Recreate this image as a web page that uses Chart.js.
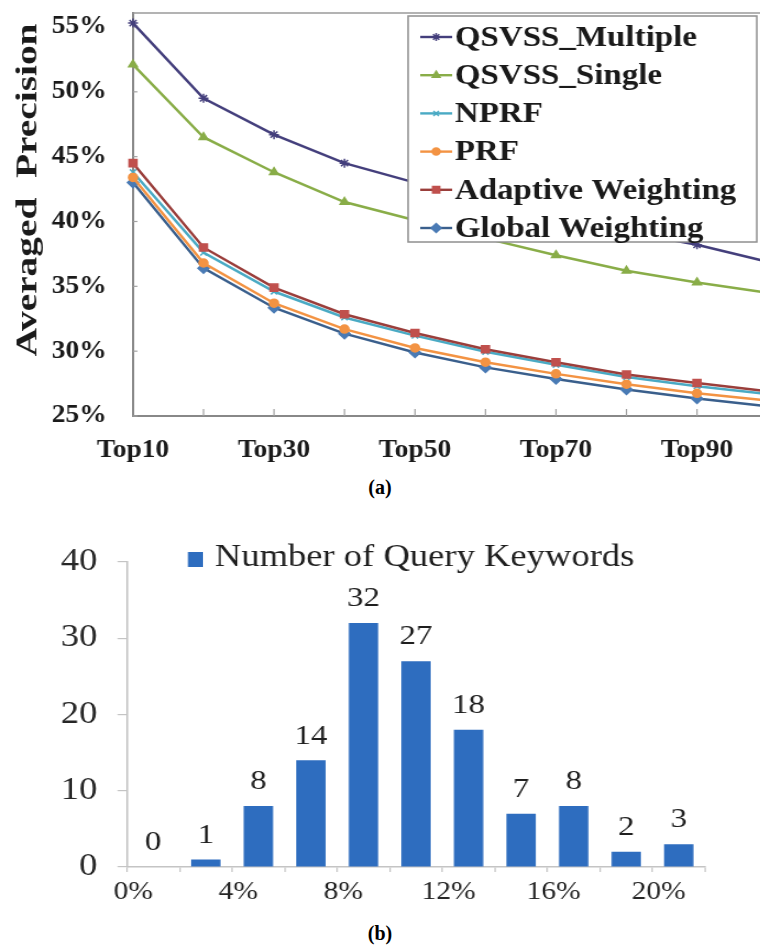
<!DOCTYPE html>
<html><head><meta charset="utf-8">
<script src="https://cdn.jsdelivr.net/npm/chart.js@4.4.1/dist/chart.umd.min.js"></script>
<style>
html,body{margin:0;padding:0;background:#fff;width:760px;height:950px;overflow:hidden;position:relative;}
#wrapA{position:absolute;left:0;top:0;width:720px;height:470px;transform:scaleX(1.1);transform-origin:0 0;}
#wrapB{position:absolute;left:0;top:520px;width:644px;height:400px;transform:scaleX(1.18);transform-origin:0 0;}
.cap{position:absolute;left:0;width:760px;text-align:center;font:bold 20px "Liberation Serif";color:#000;line-height:23px;}
</style></head><body>
<div id="wrapA"><canvas id="ca" width="720" height="470"></canvas></div>
<div class="cap" style="top:476px">(a)</div>
<div id="wrapB"><canvas id="cb" width="644" height="400"></canvas></div>
<div class="cap" style="top:922px">(b)</div>
<script>
// ---------- Chart (a) data ----------
const categories = ['Top10','Top20','Top30','Top40','Top50','Top60','Top70','Top80','Top90','Top100'];
const xTickLabels = ['Top10','Top30','Top50','Top70','Top90'];
const yTickValues = [25, 30, 35, 40, 45, 50, 55];
const yTickLabels = ['25%','30%','35%','40%','45%','50%','55%'];
const seriesNames = ['QSVSS_Multiple','QSVSS_Single','NPRF','PRF','Adaptive Weighting','Global Weighting'];
const qsvssMultiple = [55.3, 49.5, 46.7, 44.5, 43.0, 41.7, 40.4, 39.2, 38.2, 36.9];
const qsvssSingle   = [52.1, 46.5, 43.8, 41.5, 40.1, 38.7, 37.4, 36.2, 35.3, 34.5];
const nprf          = [43.8, 37.6, 34.6, 32.6, 31.2, 29.95, 28.95, 28.0, 27.3, 26.7];
const prf           = [43.4, 36.8, 33.7, 31.7, 30.25, 29.15, 28.25, 27.45, 26.75, 26.2];
const adaptive      = [44.5, 38.0, 34.9, 32.85, 31.4, 30.15, 29.15, 28.2, 27.55, 26.9];
const globalW       = [43.0, 36.4, 33.35, 31.35, 29.9, 28.75, 27.85, 27.05, 26.35, 25.75];
const yAxisTitle = 'Averaged  Precision';

// ---------- Chart (b) data ----------
const binLabels = ['0%','2%','4%','6%','8%','10%','12%','14%','16%','18%','20%'];
const counts = [0, 1, 8, 14, 32, 27, 18, 7, 8, 2, 3];
const xTickLabelsB = ['0%','4%','8%','12%','16%','20%'];
const yTickValuesB = [0, 10, 20, 30, 40];
const legendB = 'Number of Query Keywords';

Chart.defaults.font.family = '"Liberation Serif", "Times New Roman", serif';
Chart.defaults.animation = false;

const styleA = [
  {line:'#443f7c', mark:'#443f7c', ps:'star', r:4.5},
  {line:'#89ad48', mark:'#89ad48', ps:'triangle', r:4.5},
  {line:'#4aaac4', mark:'#4aaac4', ps:'crossRot', r:4},
  {line:'#f39343', mark:'#f39343', ps:'circle', r:4},
  {line:'#9a3e3b', mark:'#c0504d', ps:'rect', r:5},
  {line:'#3a5f8c', mark:'#4a7bb5', ps:'rectRot', r:5}
];
const valuesA = [qsvssMultiple, qsvssSingle, nprf, prf, adaptive, globalW];
const orderA = [1, 2, 4, 3, 0, 5];

const datasetsA = valuesA.map((vals, i) => ({
  label: seriesNames[i],
  data: vals,
  borderColor: styleA[i].line,
  backgroundColor: styleA[i].mark,
  pointBorderColor: styleA[i].mark,
  pointBackgroundColor: styleA[i].mark,
  pointStyle: styleA[i].ps,
  pointRadius: styleA[i].r,
  pointBorderWidth: 1.5,
  borderWidth: 2.5,
  tension: 0,
  order: orderA[i],
  clip: false
}));

function drawMarker(ctx, ps, r, color, x, y) {
  ctx.save();
  ctx.fillStyle = color; ctx.strokeStyle = color; ctx.lineWidth = 1.5;
  if (Chart.helpers && Chart.helpers.drawPoint) {
    Chart.helpers.drawPoint(ctx, {pointStyle: ps, radius: r, rotation: 0, borderWidth: 1.5}, x, y);
    ctx.fill();
  }
  ctx.restore();
}

const pluginA = {
  id: 'decorA',
  beforeDatasetsDraw(chart) {
    const {ctx, chartArea: a, scales: {x, y}} = chart;
    ctx.save();
    ctx.strokeStyle = '#9a9a9a'; ctx.lineWidth = 1.6;
    ctx.beginPath(); ctx.moveTo(a.left, a.top); ctx.lineTo(a.right, a.top); ctx.stroke();
    ctx.strokeStyle = '#a0a0a0'; ctx.lineWidth = 1.2;
    categories.forEach((c, i) => {
      if (i === 0) return;
      const px = x.getPixelForValue(i);
      ctx.beginPath(); ctx.moveTo(px, a.bottom); ctx.lineTo(px, a.bottom - 7); ctx.stroke();
    });
    yTickValues.forEach(v => {
      const py = y.getPixelForValue(v);
      ctx.beginPath(); ctx.moveTo(a.left, py); ctx.lineTo(a.left + 4, py); ctx.stroke();
    });
    ctx.restore();
  },
  afterDatasetsDraw(chart) {
    const {ctx} = chart;
    const bx = 371, by = 16, bw = 317, bh = 226;
    ctx.save();
    ctx.fillStyle = '#ffffff'; ctx.fillRect(bx, by, bw, bh);
    ctx.strokeStyle = '#8f8f8f'; ctx.lineWidth = 1.5; ctx.strokeRect(bx, by, bw, bh);
    ctx.font = 'bold 30px "Liberation Serif"';
    ctx.textBaseline = 'middle'; ctx.textAlign = 'left';
    seriesNames.forEach((name, i) => {
      const cy = 37 + i * 38.2;
      ctx.strokeStyle = styleA[i].line; ctx.lineWidth = 2.4;
      ctx.beginPath(); ctx.moveTo(382, cy); ctx.lineTo(411, cy); ctx.stroke();
      drawMarker(ctx, styleA[i].ps, styleA[i].r - 0.5, styleA[i].mark, 396.5, cy);
      ctx.fillStyle = '#1a1a1a';
      ctx.fillText(name, 413.5, cy + 1);
    });
    ctx.restore();
  },
  afterDraw(chart) {
    const {ctx} = chart;
    ctx.save();
    ctx.translate(25.8, 190);
    ctx.rotate(-Math.PI / 2);
    ctx.font = 'bold 28px "Liberation Serif"';
    const w = ctx.measureText(yAxisTitle).width;
    ctx.scale(333 / w, 1);
    ctx.fillStyle = '#1a1a1a';
    ctx.textAlign = 'center'; ctx.textBaseline = 'middle';
    ctx.fillText(yAxisTitle, 0, 0);
    ctx.restore();
  }
};

new Chart(document.getElementById('ca'), {
  type: 'line',
  data: { labels: categories, datasets: datasetsA },
  options: {
    responsive: false,
    animation: false,
    layout: { padding: { top: 13, right: 22.3, left: 0, bottom: 0 } },
    plugins: { legend: { display: false }, tooltip: { enabled: false } },
    scales: {
      x: {
        type: 'category',
        offset: false,
        grid: { display: false, drawTicks: false },
        border: { display: true, color: '#888888', width: 2 },
        ticks: {
          autoSkip: false, maxRotation: 0, minRotation: 0, padding: 20,
          color: '#1a1a1a', font: { size: 25, weight: 'bold' },
          callback: (v, i) => xTickLabels.includes(categories[i]) ? categories[i] : ''
        },
        afterFit(s) { s.height = 54; s.paddingLeft = 0; s.paddingRight = 0; }
      },
      y: {
        min: 25, max: 56.08,
        grid: { display: false, drawTicks: false },
        border: { display: true, color: '#888888', width: 2 },
        ticks: {
          stepSize: 5, includeBounds: false, padding: 24,
          color: '#1a1a1a', font: { size: 25, weight: 'bold' },
          callback: (v) => { const k = yTickValues.indexOf(Math.round(v)); return k >= 0 ? yTickLabels[k] : ''; }
        },
        afterFit(s) { s.width = 120.9; s.paddingTop = 0; s.paddingBottom = 0; }
      }
    }
  },
  plugins: [pluginA]
});

// ---------- Chart (b) ----------
const barColor = '#2e6dbf';
const pluginB = {
  id: 'decorB',
  afterDatasetsDraw(chart) {
    const {ctx} = chart;
    const meta = chart.getDatasetMeta(0);
    ctx.save();
    ctx.font = '28px "Liberation Serif"';
    ctx.fillStyle = '#1f1f1f';
    ctx.textAlign = 'center'; ctx.textBaseline = 'middle';
    meta.data.forEach((bar, i) => {
      ctx.fillText(String(counts[i]), bar.x, bar.y - 24);
    });
    // legend
    ctx.fillStyle = barColor;
    ctx.fillRect(159.3, 32, 12.7, 15);
    ctx.font = '31px "Liberation Serif"';
    ctx.fillStyle = '#1f1f1f';
    ctx.textAlign = 'left';
    ctx.fillText(legendB, 182, 38);
    ctx.restore();
  }
};

new Chart(document.getElementById('cb'), {
  type: 'bar',
  data: { labels: binLabels, datasets: [{ label: legendB, data: counts, backgroundColor: barColor, barPercentage: 0.56, categoryPercentage: 1.0 }] },
  options: {
    responsive: false,
    animation: false,
    layout: { padding: { top: 42, right: 46.5, left: 0, bottom: 0 } },
    plugins: { legend: { display: false }, tooltip: { enabled: false } },
    scales: {
      x: {
        type: 'category',
        offset: true,
        grid: { display: true, offset: true, drawOnChartArea: false, drawTicks: true, tickLength: 5, color: '#c4c4c4', lineWidth: 1.2 },
        border: { display: true, color: '#c4c4c4', width: 1.6 },
        ticks: {
          autoSkip: false, maxRotation: 0, minRotation: 0, padding: 5, labelOffset: -17,
          color: '#262626', font: { size: 25 },
          callback: (v, i) => xTickLabelsB.includes(binLabels[i]) ? binLabels[i] : ''
        },
        afterFit(s) { s.height = 53; s.paddingLeft = 0; s.paddingRight = 0; }
      },
      y: {
        min: 0, max: 40,
        grid: { display: true, drawOnChartArea: false, drawTicks: true, tickLength: 8, color: '#c4c4c4', lineWidth: 1.2 },
        border: { display: true, color: '#c4c4c4', width: 1.6 },
        ticks: {
          stepSize: 10, padding: 17, color: '#262626', font: { size: 31 },
          callback: (v) => yTickValuesB.includes(v) ? String(v) : ''
        },
        afterFit(s) { s.width = 107.6; s.paddingTop = 0; s.paddingBottom = 0; }
      }
    }
  },
  plugins: [pluginB]
});
</script>
</body></html>
